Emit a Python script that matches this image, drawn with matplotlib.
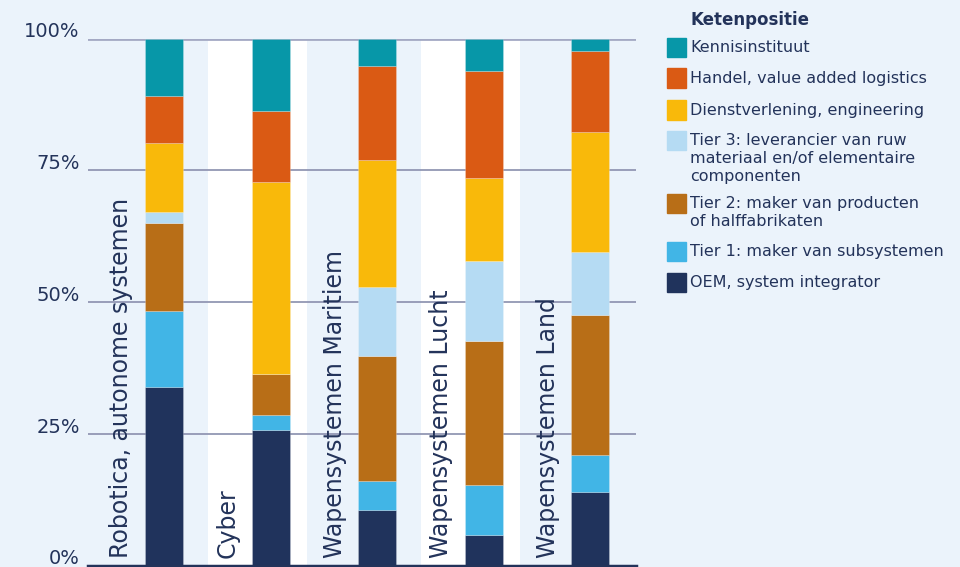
import matplotlib.pyplot as plt
from matplotlib.patches import Rectangle
from matplotlib.transforms import ScaledTranslation

# categories and series (percent of each bar)
categories = ['Robotica, autonome systemen', 'Cyber', 'Wapensystemen Maritiem',
              'Wapensystemen Lucht', 'Wapensystemen Land']

series_names = ['OEM, system integrator',
                'Tier 1: maker van subsystemen',
                'Tier 2: maker van producten\nof halffabrikaten',
                'Tier 3: leverancier van ruw\nmateriaal en/of elementaire\ncomponenten',
                'Dienstverlening, engineering',
                'Handel, value added logistics',
                'Kennisinstituut']

oem = [33.9, 25.8, 10.5, 5.8, 13.9]
tier1 = [14.4, 2.8, 5.5, 9.5, 7.2]
tier2 = [16.8, 7.8, 23.8, 27.4, 26.5]
tier3 = [2.0, 0.0, 13.0, 15.2, 11.9]
dienst = [13.1, 36.4, 24.2, 15.6, 22.8]
handel = [9.0, 13.5, 17.8, 20.4, 15.3]
kennis = [10.8, 13.7, 5.2, 6.1, 2.4]

yticks = [0, 25, 50, 75, 100]
ytick_labels = ['0%', '25%', '50%', '75%', '100%']

colors = ['#20335C', '#41B5E6', '#B86E17', '#B5DBF3', '#F9B90A', '#DA5A14', '#0797A8']
bg = '#EBF3FB'
navy = '#23335A'
grid = '#9297B3'

W, H = 960, 567
fig = plt.figure(figsize=(W / 100, H / 100), dpi=100, facecolor=bg)
ax = fig.add_axes([88 / W, 1.3 / H, (636 - 88) / W, (565.7 - 38.7) / H])
ax.set_facecolor(bg)

x = list(range(len(categories)))
ax.set_xlim(-0.714, 4.43)
ax.set_ylim(0, 100)

# white bands behind every other category
for i in (1, 3):
    ax.axvspan(i - 0.59, i + 0.34, color='white', zorder=0, lw=0)

for t in (25, 50, 75):
    ax.axhline(t, color=grid, lw=1.3, zorder=1)
ax.axhline(100, color='#A4A9C4', lw=2, zorder=1)

all_series = [oem, tier1, tier2, tier3, dienst, handel, kennis]
bottom = [0.0] * len(categories)
for vals, c in zip(all_series, colors):
    ax.bar(x, vals, width=0.357, bottom=bottom, color=c, zorder=2,
           edgecolor=(1, 1, 1, 0.25), linewidth=0.6)
    bottom = [b + v for b, v in zip(bottom, vals)]

ax.axhline(0, color=navy, lw=2.5, zorder=3, clip_on=False)

# category labels, rotated, left of each bar
for i, name in enumerate(categories):
    ax.text(i - 0.40, 1.4, name, rotation=90, ha='center', va='bottom',
            fontsize=17, color=navy, zorder=4)

for s in ax.spines.values():
    s.set_visible(False)
ax.set_xticks([])
ax.set_yticks(yticks)
ax.set_yticklabels(ytick_labels)
ax.tick_params(axis='y', length=0, pad=6, labelsize=14, labelcolor=navy)
# tick labels sit a little above their gridline
shift = ScaledTranslation(0, 0.088, fig.dpi_scale_trans)
for lab in ax.get_yticklabels():
    lab.set_transform(lab.get_transform() + shift)


# legend drawn by hand in pixel coordinates
def fx(px):
    return px / W


def fy(py):
    return 1 - py / H


fig.text(fx(690), fy(20), 'Ketenpositie', fontsize=12, fontweight='bold',
         color=navy, va='center', ha='left')

legend_y = [282.5, 251.5, 203.5, 140.5, 110, 78, 47.5]
for name, c, py in zip(series_names, colors, legend_y):
    fig.patches.append(Rectangle((fx(667), fy(py + 9.5)), 19 / W, 19 / H,
                                 transform=fig.transFigure, color=c))
    for k, line in enumerate(name.split('\n')):
        fig.text(fx(690), fy(py + 18 * k), line, fontsize=11.5, color=navy,
                 va='center', ha='left')

fig.savefig('out.png', dpi=100, facecolor=bg)
